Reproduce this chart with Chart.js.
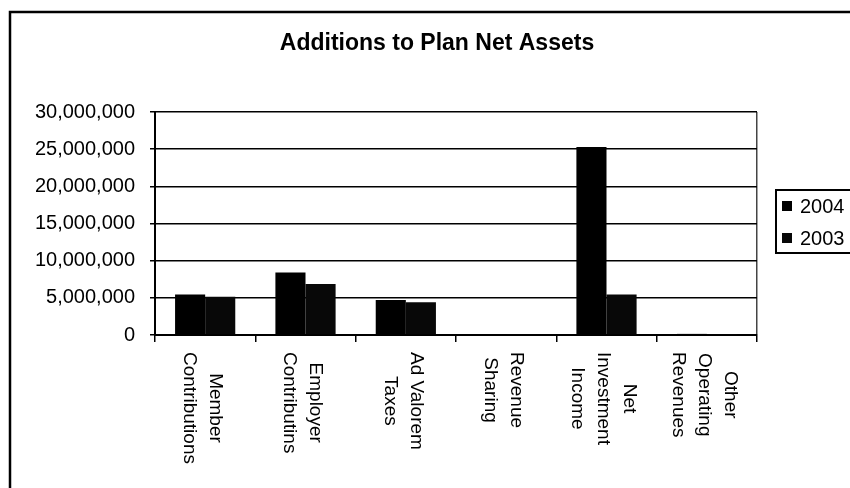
<!DOCTYPE html>
<html>
<head>
<meta charset="utf-8">
<script src="https://cdn.jsdelivr.net/npm/chart.js@4"></script>
<style>
  html, body { margin: 0; padding: 0; background: #fff; }
  #wrap { width: 850px; height: 488px; }
</style>
</head>
<body>
<div id="wrap"><canvas id="chart" width="850" height="488"></canvas></div>
<script>
const categories = [
    ['Member', 'Contributions'],
    ['Employer', 'Contributins'],
    ['Ad Valorem', 'Taxes'],
    ['Revenue', 'Sharing'],
    ['Net', 'Investment', 'Income'],
    ['Other', 'Operating', 'Revenues']
];
const seriesNames = ['2004', '2003'];
const values2004 = [5450000, 8400000, 4700000, 120000, 25300000, 150000];
const values2003 = [5150000, 6850000, 4400000, 120000, 5450000, 50000];
const yTicks = [0, 5000000, 10000000, 15000000, 20000000, 25000000, 30000000];

const FONT = '"Liberation Sans", Arial, sans-serif';

// frame, title, rotated category labels and boxed legend
const decor = {
    id: 'decor',
    afterDraw(chart) {
        const ctx = chart.ctx;
        const x = chart.scales.x;
        ctx.save();
        ctx.strokeStyle = '#000';
        ctx.lineWidth = 2.5;
        ctx.strokeRect(10, 12, 900, 600);

        ctx.fillStyle = '#000';
        ctx.font = 'bold 23px ' + FONT;
        ctx.textAlign = 'center';
        ctx.textBaseline = 'middle';
        ctx.fillText('Additions to Plan Net Assets', 437, 44);

        // labels read top to bottom, first line on the right
        ctx.font = '19px ' + FONT;
        const lh = 26;
        const top = chart.chartArea.bottom + 17;
        categories.forEach((lines, i) => {
            const cx = x.getPixelForValue(i) - 3;
            const w = Math.max(...lines.map(l => ctx.measureText(l).width));
            ctx.save();
            ctx.translate(cx, top);
            ctx.rotate(Math.PI / 2);
            lines.forEach((l, j) => {
                ctx.fillText(l, w / 2, (j - (lines.length - 1) / 2) * lh);
            });
            ctx.restore();
        });

        // legend
        ctx.lineWidth = 2;
        ctx.strokeRect(776, 190, 100, 63);
        ctx.font = '20px ' + FONT;
        ctx.textAlign = 'left';
        chart.data.datasets.forEach((ds, i) => {
            const y = 206 + i * 32;
            ctx.fillStyle = ds.backgroundColor;
            ctx.fillRect(782, y - 5, 10, 10);
            ctx.fillStyle = '#000';
            ctx.fillText(ds.label, 800, y + 1);
        });
        ctx.restore();
    }
};

new Chart(document.getElementById('chart'), {
    type: 'bar',
    data: {
        labels: categories,
        datasets: [{
            label: seriesNames[0],
            data: values2004,
            backgroundColor: '#000'
        }, {
            label: seriesNames[1],
            data: values2003,
            backgroundColor: '#080808'
        }]
    },
    options: {
        responsive: false,
        animation: false,
        devicePixelRatio: 1,
        layout: { padding: { top: 112, right: 93, left: 0, bottom: 0 } },
        datasets: { bar: { barPercentage: 1, categoryPercentage: 0.6 } },
        plugins: {
            legend: { display: false },
            title: { display: false },
            tooltip: { enabled: false }
        },
        scales: {
            x: {
                afterFit: s => { s.height = 153; },
                ticks: { display: false },
                grid: {
                    offset: true,
                    drawOnChartArea: true,
                    color: c => c.index === undefined ? '#444' : 'rgba(0,0,0,0)',
                    tickColor: '#000',
                    lineWidth: 1.5,
                    tickLength: 7
                },
                border: { display: true, color: '#000', width: 2 }
            },
            y: {
                min: 0,
                max: 30000000,
                afterFit: s => { s.width = 155; },
                afterBuildTicks: s => { s.ticks = yTicks.map(v => ({ value: v })); },
                ticks: {
                    color: '#000',
                    padding: 15,
                    font: { family: FONT, size: 20 },
                    callback: v => v.toLocaleString('en-US')
                },
                grid: { color: '#000', lineWidth: 1.5, tickLength: 5 },
                border: { display: true, color: '#000', width: 2 }
            }
        }
    },
    plugins: [decor]
});
</script>
</body>
</html>
